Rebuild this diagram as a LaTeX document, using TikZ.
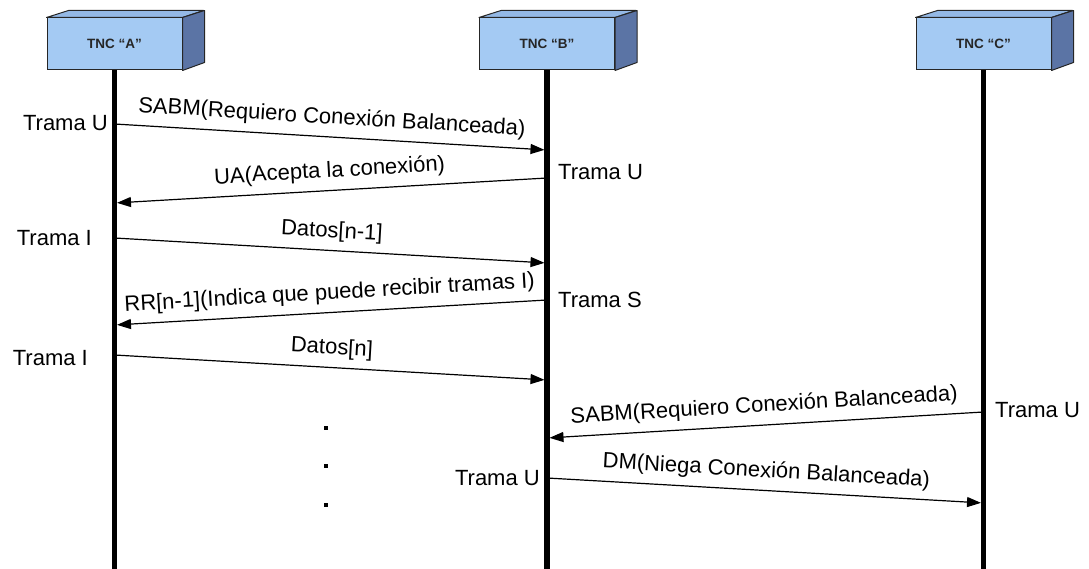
\documentclass[tikz,border=0pt]{standalone}
\usepackage{fontspec}
\setmainfont{Liberation Sans}
\usetikzlibrary{arrows.meta}
\definecolor{boxfront}{HTML}{A4CAF3}
\definecolor{boxtop}{HTML}{94B9E6}
\definecolor{boxside}{HTML}{5B74A5}
\tikzset{
  tnc/.style={draw=black!85, line width=1pt, fill=boxfront, minimum width=135pt,
    minimum height=52pt, inner sep=0pt, font=\bfseries\fontsize{13.5}{15}\selectfont, text=black!85},
  face/.style={draw=black!85, line width=1pt, line join=round},
  lifeline/.style={line width=5.5pt},
  msg/.style={line width=1.2pt, -{Triangle[length=14pt,width=10pt]}, shorten >=2.5pt},
  msglabel/.style={sloped, above, inner sep=8pt, font=\fontsize{22}{26}\selectfont},
  side/.style={font=\fontsize{22}{26}\selectfont, inner sep=0pt},
  dot/.style={fill=black, minimum size=4pt, inner sep=0pt}
}
\begin{document}
\begin{tikzpicture}[x=1pt,y=-1pt]
\useasboundingbox (0,0) rectangle (1089,569);

% lifelines
\foreach \n/\x in {A/114.5,B/547,C/983.5}{
  \coordinate (top\n) at (\x,60);
  \coordinate (end\n) at (\x,569);
  \draw[lifeline] (top\n) -- (end\n);
}

% stations drawn as boxes with a top and a side face
\foreach \n/\x in {A/114.5,B/547,C/983.5}{
  \node[tnc] (tnc\n) at (\x,44) {TNC “\n”};
  \draw[face, fill=boxtop] (tnc\n.north west) -- ++(22,-7) -- ++(135,0) -- (tnc\n.north east) -- cycle;
  \draw[face, fill=boxside] (tnc\n.north east) -- ++(22,-7) -- ++(0,52) -- (tnc\n.south east) -- cycle;
}

% message end points on the lifelines
\coordinate (a1) at (114.5,124); \coordinate (b1) at (547,150);
\coordinate (b2) at (547,178);   \coordinate (a2) at (114.5,203);
\coordinate (a3) at (114.5,238); \coordinate (b3) at (547,263);
\coordinate (b4) at (547,300);   \coordinate (a4) at (114.5,325);
\coordinate (a5) at (114.5,355); \coordinate (b5) at (547,380);
\coordinate (c6) at (983.5,412); \coordinate (b6) at (547,438);
\coordinate (b7) at (547,478);   \coordinate (c7) at (983.5,503);

% messages
\draw[msg] (a1) -- node[msglabel] {SABM(Requiero Conexión Balanceada)} (b1);
\draw[msg] (b2) -- node[msglabel] {UA(Acepta la conexión)} (a2);
\draw[msg] (a3) -- node[msglabel] {Datos[n-1]} (b3);
\draw[msg] (b4) -- node[msglabel] {RR[n-1](Indica que puede recibir tramas I)} (a4);
\draw[msg] (a5) -- node[msglabel] {Datos[n]} (b5);
\draw[msg] (c6) -- node[msglabel] {SABM(Requiero Conexión Balanceada)} (b6);
\draw[msg] (b7) -- node[msglabel] {DM(Niega Conexión Balanceada)} (c7);

% frame types
\node[side, anchor=east] (tu1) at (108,123) {Trama U};
\node[side, anchor=west] (tu2) at (558,172) {Trama U};
\node[side, anchor=east] (ti3) at (92,238) {Trama I};
\node[side, anchor=west] (ts4) at (558,300) {Trama S};
\node[side, anchor=east] (ti5) at (88,358) {Trama I};
\node[side, anchor=west] (tu6) at (995,410) {Trama U};
\node[side, anchor=east] (tu7) at (540,478) {Trama U};

% ellipsis
\node[dot] (d1) at (326,428) {};
\node[dot] (d2) at (326,466) {};
\node[dot] (d3) at (326,505) {};
\end{tikzpicture}
\end{document}
